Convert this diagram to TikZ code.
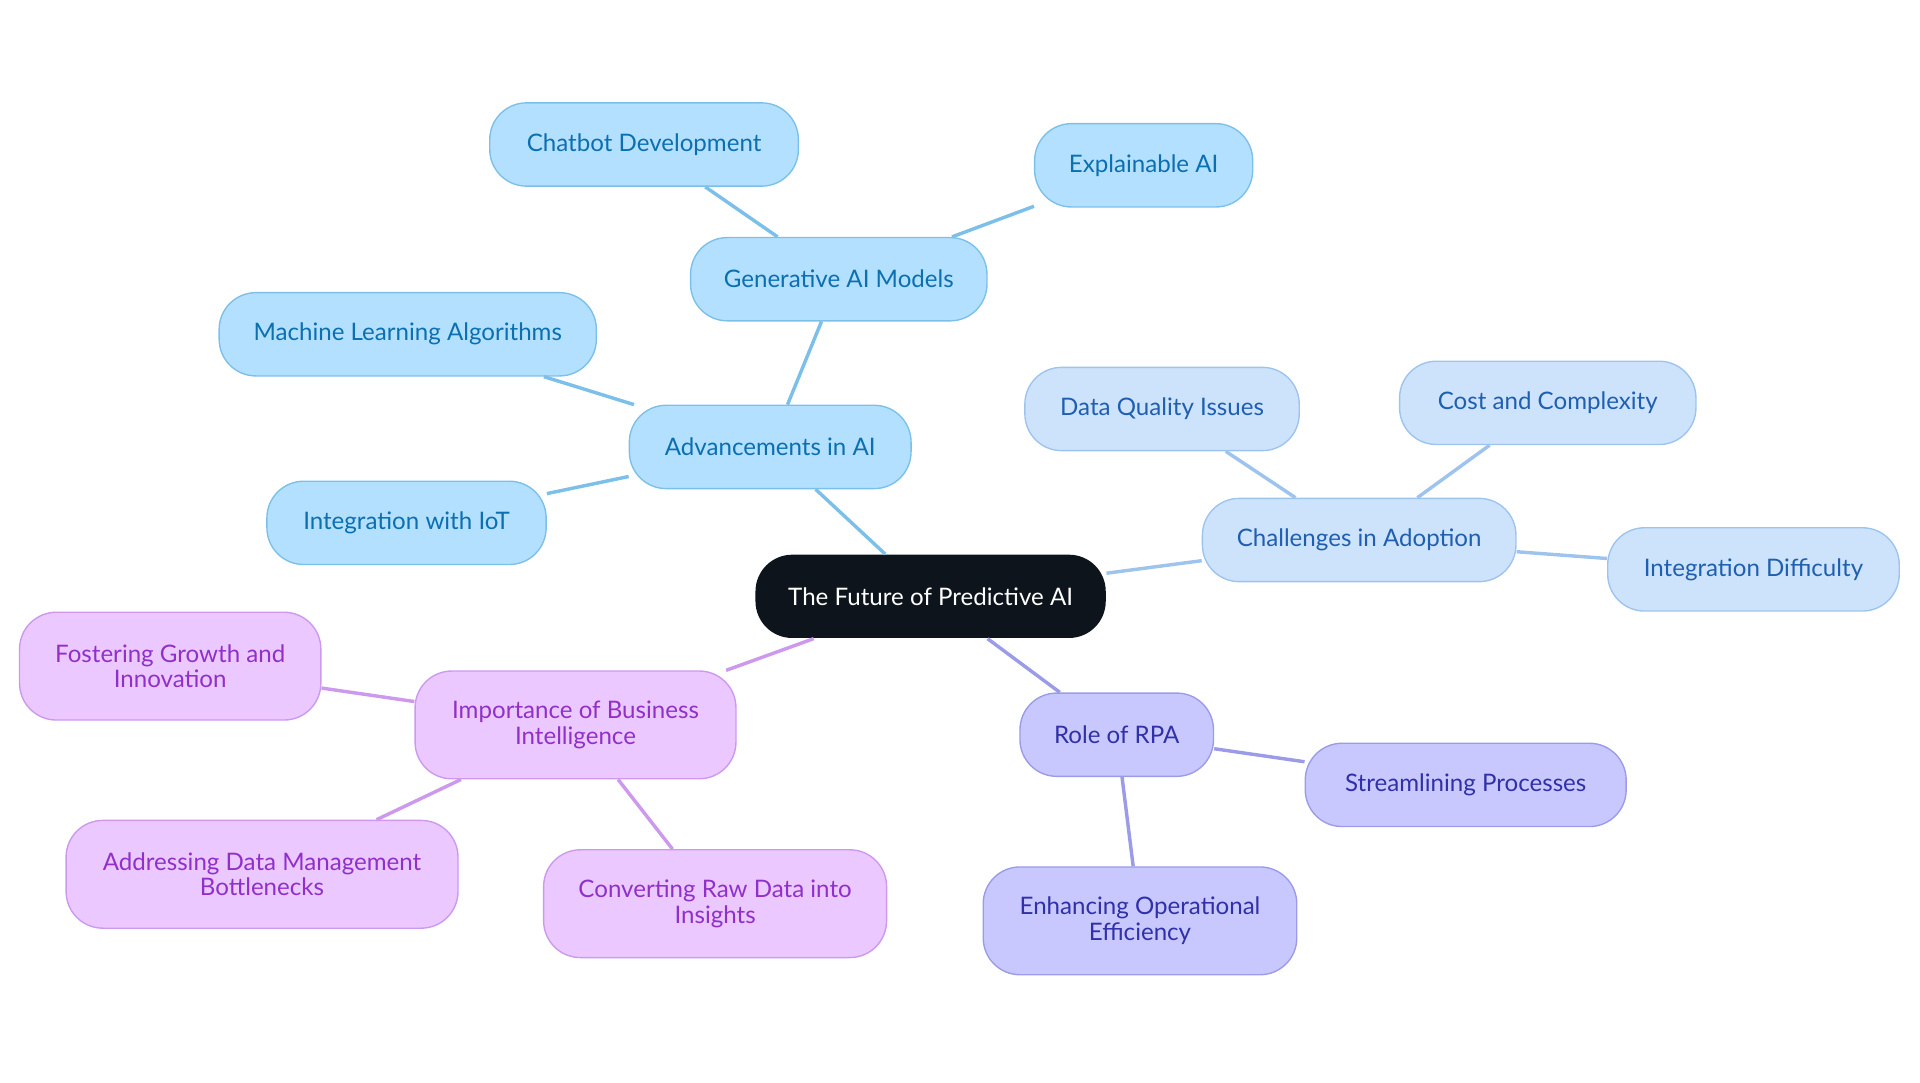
\documentclass[tikz,border=0pt]{standalone}
\usepackage{fontspec}
\setmainfont{Lato}
\definecolor{rootfill}{HTML}{0D141B}
\definecolor{aifill}{HTML}{B3E0FF}\definecolor{aidraw}{HTML}{7CC0EA}\definecolor{aitext}{HTML}{0B6FB0}
\definecolor{chfill}{HTML}{CCE3FB}\definecolor{chdraw}{HTML}{9EC4EE}\definecolor{chtext}{HTML}{1F5FB0}
\definecolor{rpfill}{HTML}{C8C8FF}\definecolor{rpdraw}{HTML}{9B9BE8}\definecolor{rptext}{HTML}{3030A8}
\definecolor{bifill}{HTML}{EBC8FF}\definecolor{bidraw}{HTML}{CC99EE}\definecolor{bitext}{HTML}{9030C8}
\tikzset{
  box/.style={rounded corners=0.75cm, minimum height=1.7cm, align=center, line width=0.8pt,
    font=\fontsize{14}{15}\selectfont, inner sep=2pt},
  ai/.style={box, fill=aifill, draw=aidraw, text=aitext},
  ch/.style={box, fill=chfill, draw=chdraw, text=chtext},
  rp/.style={box, fill=rpfill, draw=rpdraw, text=rptext},
  bi/.style={box, fill=bifill, draw=bidraw, text=bitext},
  tall/.style={minimum height=2.2cm},
  link/.style={line width=2pt}
}
\begin{document}
\begin{tikzpicture}[x=0.025cm, y=-0.025cm]
	\useasboundingbox (0,0) rectangle (1568,884);

	\node[box, fill=rootfill, text=white, minimum width=7.15cm] (root) at (760,487) {The Future of Predictive AI};

	\node[ai, minimum width=5.75cm] (adv) at (629,365) {Advancements in AI};
	\node[ai, minimum width=6.05cm] (gen) at (685,228) {Generative AI Models};
	\node[ai, minimum width=6.3cm] (chat) at (526,118) {Chatbot Development};
	\node[ai, minimum width=4.45cm] (xai) at (934,135) {Explainable AI};
	\node[ai, minimum width=7.7cm] (ml) at (333,273) {Machine Learning Algorithms};
	\node[ai, minimum width=5.7cm] (iot) at (332,427) {Integration with IoT};

	\node[ch, minimum width=6.4cm] (chal) at (1110,441) {Challenges in Adoption};
	\node[ch, minimum width=5.6cm] (dq) at (949,334) {Data Quality Issues};
	\node[ch, minimum width=6.05cm] (cost) at (1264,329) {Cost and Complexity};
	\node[ch, minimum width=5.95cm] (intd) at (1432,465) {Integration Difficulty};

	\node[rp, minimum width=3.95cm] (rpa) at (912,600) {Role of RPA};
	\node[rp, minimum width=6.55cm] (stream) at (1197,641) {Streamlining Processes};
	\node[rp, tall, minimum width=6.4cm] (eff) at (931,752) {Enhancing Operational\\Efficiency};

	\node[bi, tall, minimum width=6.55cm] (bi) at (470,592) {Importance of Business\\Intelligence};
	\node[bi, tall, minimum width=6.15cm] (grow) at (139,544) {Fostering Growth and\\Innovation};
	\node[bi, tall, minimum width=8cm] (addr) at (214,714) {Addressing Data Management\\Bottlenecks};
	\node[bi, tall, minimum width=7cm] (conv) at (584,738) {Converting Raw Data into\\Insights};

	\draw[link, aidraw] (root) -- (adv);
	\draw[link, aidraw] (adv) -- (gen);
	\draw[link, aidraw] (gen) -- (chat);
	\draw[link, aidraw] (gen) -- (xai);
	\draw[link, aidraw] (adv) -- (ml);
	\draw[link, aidraw] (adv) -- (iot);

	\draw[link, chdraw] (root) -- (chal);
	\draw[link, chdraw] (chal) -- (dq);
	\draw[link, chdraw] (chal) -- (cost);
	\draw[link, chdraw] (chal) -- (intd);

	\draw[link, rpdraw] (root) -- (rpa);
	\draw[link, rpdraw] (rpa) -- (stream);
	\draw[link, rpdraw] (rpa) -- (eff);

	\draw[link, bidraw] (root) -- (bi);
	\draw[link, bidraw] (bi) -- (grow);
	\draw[link, bidraw] (bi) -- (addr);
	\draw[link, bidraw] (bi) -- (conv);
\end{tikzpicture}
\end{document}
